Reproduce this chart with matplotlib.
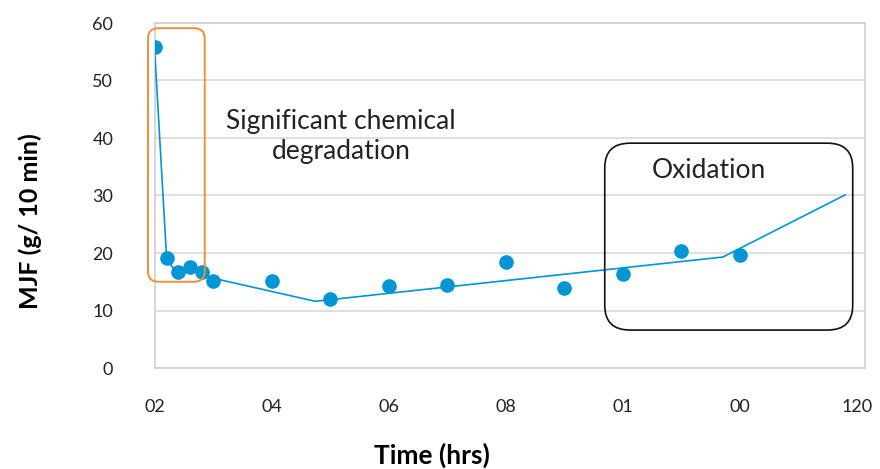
import matplotlib.pyplot as plt
from matplotlib.patches import FancyBboxPatch

# measured melt flow values
time_pts = [0, 2, 4, 6, 8, 10, 20, 30, 40, 50, 60, 70, 80, 90, 100]
mjf_pts = [55.8, 19.1, 16.7, 17.6, 16.7, 15.1, 15.1, 12.0, 14.3, 14.4, 18.4, 13.9, 16.3, 20.3, 19.7]

# trend line vertices
trend_t = [0, 2, 4, 6, 8, 10, 27.4, 97.1, 118]
trend_y = [54.3, 18.8, 16.3, 16.9, 16.5, 15.6, 11.6, 19.3, 30.1]

xtick_pos = [0, 20, 40, 60, 80, 100, 120]
xtick_labels = ['02', '04', '06', '08', '01', '00', '120']
ytick_pos = [0, 10, 20, 30, 40, 50, 60]

blue = '#0096D6'
plt.rcParams['font.family'] = ['Lato', 'DejaVu Sans']

fig = plt.figure(figsize=(8.8, 4.69), dpi=100)
ax = fig.add_axes([155 / 880, 101 / 469, 710 / 880, 345 / 469])

ax.plot(trend_t, trend_y, color=blue, lw=1.2, zorder=3)
ax.plot(time_pts, mjf_pts, 'o', color=blue, ms=9.5, zorder=4)

ax.set_xlim(0, 121.4)
ax.set_ylim(0, 60)
ax.set_xticks(xtick_pos)
ax.set_xticklabels(xtick_labels)
ax.set_yticks(ytick_pos)
ax.tick_params(length=0, labelsize=13, colors='#222222', pad=22)
ax.tick_params(axis='y', pad=30)
ax.yaxis.grid(True, color='#d9d9d9', lw=1.2)
ax.set_axisbelow(True)
for s in ax.spines.values():
    s.set_color('#d0d0d0')
    s.set_linewidth(1.2)

ax.set_ylabel('MJF (g/ 10 min)', fontsize=18, fontweight='bold', va='center')
ax.yaxis.set_label_coords(-0.176, 0.426)
ax.set_xlabel('Time (hrs)', fontsize=19, fontweight='bold', va='center')
ax.xaxis.set_label_coords(0.39, -0.252)

# orange box round the early points
orange = FancyBboxPatch((-1.2, 15.0), 9.7, 44.1,
                        boxstyle='round,pad=0,rounding_size=1.8',
                        fc='none', ec='#F28C38', lw=1.4, clip_on=False, zorder=5)
ax.add_patch(orange)
ax.text(31.8, 40.2, 'Significant chemical\ndegradation', ha='center', va='center',
        fontsize=19, color='#222222', linespacing=1.25)

# black box for oxidation region
black = FancyBboxPatch((76.9, 6.6), 42.4, 32.5,
                       boxstyle='round,pad=0,rounding_size=4.3',
                       fc='none', ec='#111111', lw=1.2, clip_on=False, zorder=5)
ax.add_patch(black)
ax.text(94.7, 34.3, 'Oxidation', ha='center', va='center',
        fontsize=19, color='#222222')

fig.savefig('out.png', dpi=100)
